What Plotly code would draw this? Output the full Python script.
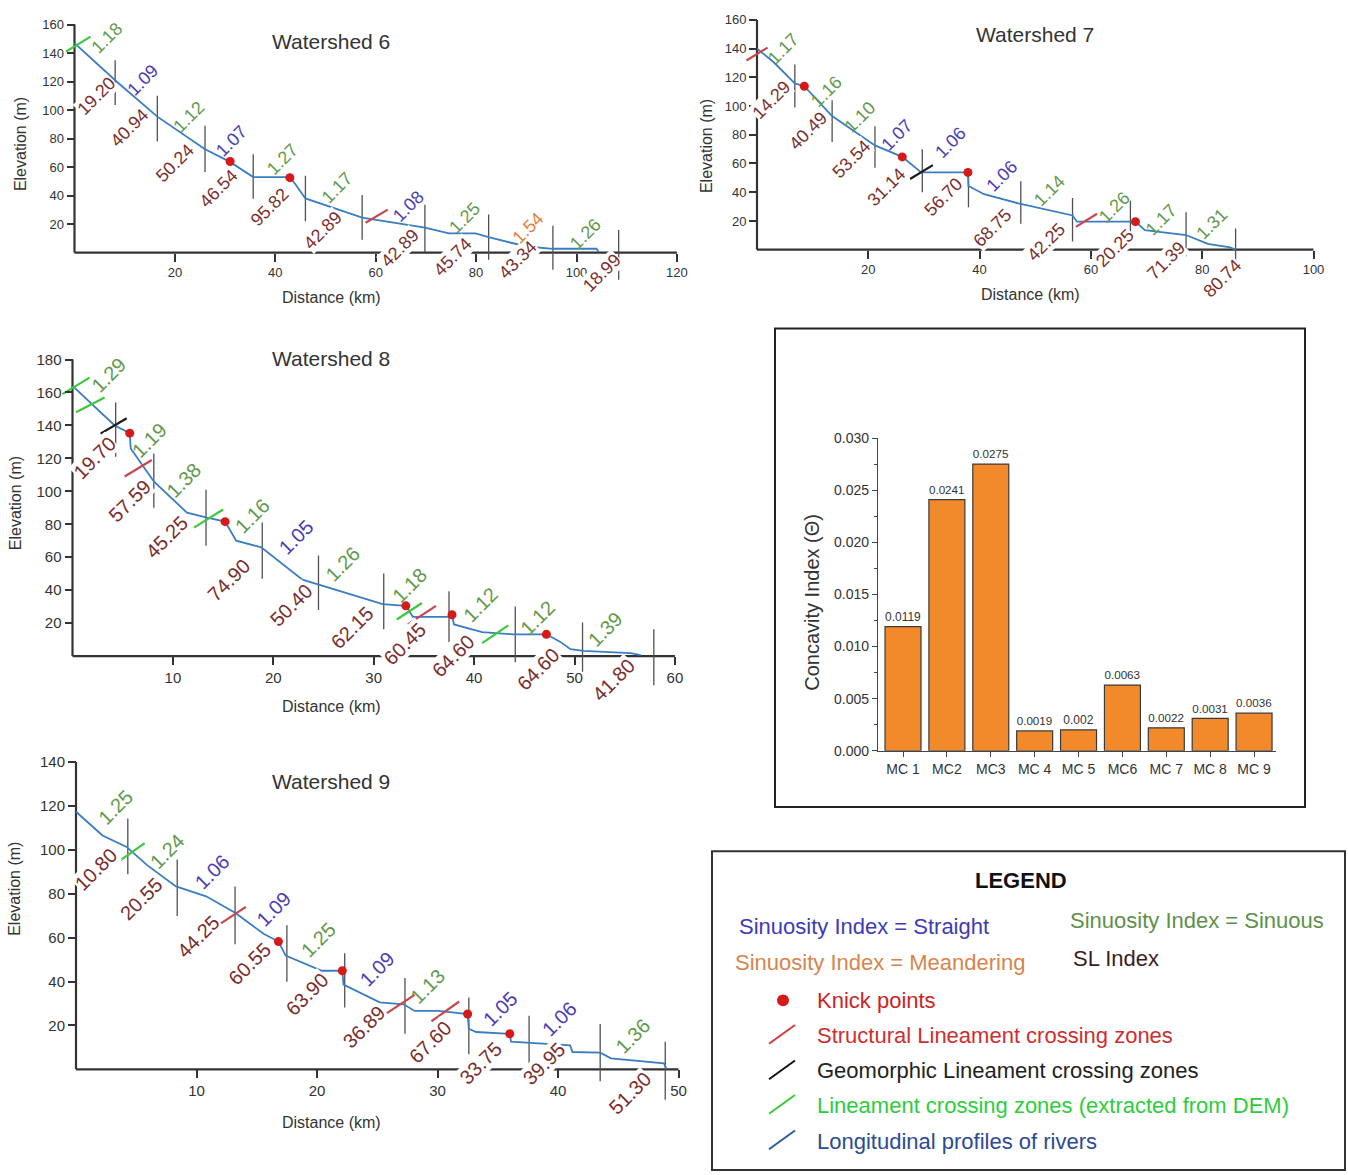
import plotly.graph_objects as go

W, H = 1348, 1175

# ======================= DATA =======================
# ---- Watershed 6 ----
ws6_dist = [0, 8.2, 16.5, 26, 30.8, 35.6, 42.9, 44, 46, 57.3, 69.8, 74.6, 79.9, 82.5, 90, 95.3, 104, 104.4]
ws6_elev = [147, 120.6, 95.4, 72.5, 64, 53, 53, 48, 38, 24.5, 17.6, 13.5, 13.5, 10.8, 4.3, 2.7, 2.7, 0.5]
ws6_knick_x = [31, 42.9]
ws6_knick_y = [63.9, 52.6]
ws6_seg_x = [8.1, 16.5, 26, 35.6, 46, 57.3, 69.8, 82.5, 95.3, 108.4]
ws6_seg_top = [135, 110, 89, 69, 54, 40.5, 33.6, 26.8, 18.8, 15.8]
ws6_seg_bot = [103.5, 78, 56.5, 37.8, 22, 9, 0.5, -5, -12, -19]
ws6_sl = ["19.20", "40.94", "50.24", "46.54", "95.82", "42.89", "42.89", "45.74", "43.34", "18.99"]
ws6_sl_x = [4.4, 10.9, 20, 28.6, 38.9, 49.5, 64.8, 75.3, 88.2, 105]
ws6_sl_y = [109.8, 87.4, 63.2, 44.8, 32, 16, 3.5, -3, -5, -14]
ws6_si = [1.18, 1.09, 1.12, 1.07, 1.27, 1.17, 1.08, 1.25, 1.54, 1.26]
ws6_si_x = [6.4, 13.6, 22.7, 31.3, 41.5, 52.3, 66.6, 77.7, 90.3, 101.8]
ws6_si_y = [150.9, 121.3, 95.5, 78.2, 65.5, 45, 32.5, 24.5, 17.6, 13]
ws6_struct_x = [58, 62.4]
ws6_struct_y = [21, 30.2]
ws6_geo_x = []
ws6_geo_y = []
ws6_dem_x = [-1.7, 3.2]
ws6_dem_y = [141, 151.5]

# ---- Watershed 7 ----
ws7_dist = [0, 3, 6.8, 8.5, 13.5, 21.2, 26.1, 29.5, 37.9, 38, 40.8, 47.4, 56.7, 57.5, 68, 69.7, 77.1, 81, 85, 86]
ws7_elev = [140, 130.5, 115.8, 113.8, 93, 72.6, 64.6, 53.8, 53.8, 44.3, 38.6, 31.8, 23.8, 19.5, 19.5, 13.6, 10.2, 4, 1.6, 0]
ws7_knick_x = [8.5, 26.1, 37.9, 68]
ws7_knick_y = [113.8, 64.6, 53.8, 19.5]
ws7_seg_x = [6.8, 13.5, 21.2, 29.7, 38, 47.4, 56.7, 67.1, 77.1, 86]
ws7_seg_top = [129, 104, 86, 70, 54.5, 47.7, 36, 34, 26, 14.8]
ws7_seg_bot = [99, 75, 57, 40, 29.5, 18, 5.7, 4.5, -4.5, -16]
ws7_sl = ["14.29", "40.49", "53.54", "31.14", "56.70", "68.75", "42.25", "20.25", "71.39", "80.74"]
ws7_sl_x = [2.6, 9.2, 17, 23.3, 33.5, 42.3, 52, 64.3, 73.5, 83.7]
ws7_sl_y = [104.2, 82.4, 63, 43.5, 36.6, 15, 5, 1.5, -8, -20]
ws7_si = [1.17, 1.16, 1.10, 1.07, 1.06, 1.06, 1.14, 1.26, 1.17, 1.31]
ws7_si_x = [4.7, 12.4, 18.5, 25.1, 34.7, 44, 52.5, 64.3, 72.6, 81.7]
ws7_si_y = [139.6, 109.9, 92.7, 80.1, 74.4, 51.5, 40.9, 29.5, 20.4, 18.2]
ws7_struct_x = [-1.9, 1.9, None, 57.3, 61.1]
ws7_struct_y = [131.7, 140.7, None, 15.9, 25]
ws7_geo_x = [27.5, 31.6]
ws7_geo_y = [49.2, 58.9]
ws7_dem_x = []
ws7_dem_y = []

# ---- Watershed 8 ----
ws8_dist = [0, 4.2, 5.7, 5.8, 8.1, 11.4, 13.4, 15.2, 16.3, 18.8, 22.9, 24.5, 30.9, 33.2, 33.9, 37.6, 37.8, 38, 40.8, 43.9, 47.2, 48.6, 49.6, 50.9, 55.6, 56.6]
ws8_elev = [164, 140, 135.3, 126, 106, 87, 84, 81.6, 70, 66, 46.4, 43.4, 31.5, 30.5, 23.8, 23.8, 25.1, 19.2, 14.5, 13.2, 13.2, 8.6, 4.2, 3.2, 1.8, 0.6]
ws8_knick_x = [5.7, 15.2, 33.2, 37.8, 47.2]
ws8_knick_y = [135.3, 81.6, 30.5, 25.1, 13.2]
ws8_seg_x = [4.3, 8.1, 13.3, 18.9, 24.5, 31, 37.5, 44.1, 50.8, 57.9]
ws8_seg_top = [154, 123, 101, 81, 61, 50.1, 39.4, 30.1, 20.3, 16.2]
ws8_seg_bot = [121, 90, 67, 47, 28, 16.2, 8.6, -3.8, -9.6, -17.8]
ws8_sl = ["19.70", "57.59", "45.25", "74.90", "50.40", "62.15", "60.45", "64.60", "64.60", "41.80"]
ws8_sl_x = [2.2, 5.7, 9.4, 15.6, 21.8, 27.8, 33.1, 37.9, 46.4, 53.9]
ws8_sl_y = [120, 94, 72, 46, 31.1, 17.2, 7.2, 0.2, -7.8, -14.8]
ws8_si = [1.29, 1.19, 1.38, 1.16, 1.05, 1.26, 1.18, 1.12, 1.12, 1.39]
ws8_si_x = [3.6, 7.7, 11.1, 17.9, 22.3, 26.9, 33.6, 40.6, 46.3, 53.1]
ws8_si_y = [170.8, 131, 107, 85, 72, 56.1, 43.1, 31.1, 23.2, 16.2]
ws8_struct_x = [5.2, 7.9, None, 33.4, 36.2]
ws8_struct_y = [109, 119, None, 19.2, 30.5]
ws8_geo_x = [2.8, 5.4]
ws8_geo_y = [135, 144.4]
ws8_dem_x = [-1, 1.7, None, 0.35, 3.2, None, 12.1, 15, None, 32.3, 34.8, None, 40.8, 43.4]
ws8_dem_y = [159, 169, None, 148, 157, None, 78, 89, None, 22.2, 32.2, None, 7.8, 18.6]

# ---- Watershed 9 ----
ws9_dist = [0, 2.2, 4.2, 5.9, 8.3, 10.8, 13.2, 15.6, 16.8, 17.4, 20.4, 22.1, 22.2, 25.2, 27.2, 28.1, 30.1, 32.5, 32.6, 33.2, 36, 36.1, 41, 41.2, 43.5, 44.4, 48.8, 49]
ws9_elev = [117.3, 106.5, 101.3, 93, 83.3, 78.8, 71.3, 61.6, 58.2, 51.8, 44.9, 44.9, 38.6, 30.5, 29.6, 26.6, 26.6, 25.2, 18.5, 17, 16.2, 12.6, 10.9, 7.9, 7.6, 5, 2.7, 0.2]
ws9_knick_x = [16.8, 22.1, 32.5, 36]
ws9_knick_y = [58.2, 44.9, 25.2, 16.2]
ws9_seg_x = [4.3, 8.4, 13.2, 17.5, 22.3, 27.3, 32.6, 37.6, 43.5, 48.9]
ws9_seg_top = [114.2, 95.6, 83.3, 65.6, 52.9, 41.6, 32.7, 24.4, 20.7, 12.6]
ws9_seg_bot = [88.8, 69.8, 57, 39.9, 28.2, 16.2, 6.9, -0.3, -5.4, -13.8]
ws9_sl = ["10.80", "20.55", "44.25", "60.55", "63.90", "36.89", "67.60", "33.75", "39.95", "51.30"]
ws9_sl_x = [1.7, 5.4, 10.1, 14.4, 19.2, 23.9, 29.4, 33.6, 38.8, 46]
ws9_sl_y = [91.1, 77.7, 60.5, 47.8, 34.3, 19.3, 12.5, 2.7, 2.5, -10.8]
ws9_si = [1.25, 1.24, 1.06, 1.09, 1.25, 1.09, 1.13, 1.05, 1.06, 1.36]
ws9_si_x = [3.3, 7.6, 11.3, 16.4, 20.1, 25, 29.2, 35.2, 40.1, 46.2]
ws9_si_y = [119.5, 99.3, 89.7, 73.2, 58.9, 45.5, 38, 27.4, 22.9, 15.4]
ws9_struct_x = [11.9, 14.1, None, 25.8, 28.1, None, 29.5, 31.8]
ws9_struct_y = [66, 74, None, 25.6, 33.9, None, 21.9, 30.9]
ws9_geo_x = []
ws9_geo_y = []
ws9_dem_x = [3.7, 5.7]
ws9_dem_y = [95.3, 103]

# ---- Concavity index bar chart ----
mc_cats = ["MC 1", "MC2", "MC3", "MC 4", "MC 5", "MC6", "MC 7", "MC 8", "MC 9"]
mc_conc = [0.0119, 0.0241, 0.0275, 0.0019, 0.002, 0.0063, 0.0022, 0.0031, 0.0036]
mc_labels = ["0.0119", "0.0241", "0.0275", "0.0019", "0.002", "0.0063", "0.0022", "0.0031", "0.0036"]
mc_yticks = [0, 0.005, 0.010, 0.015, 0.020, 0.025, 0.030]

# tick labels
ws6_xt = [20, 40, 60, 80, 100, 120]
ws6_yt = [20, 40, 60, 80, 100, 120, 140, 160]
ws7_xt = [20, 40, 60, 80, 100]
ws7_yt = [20, 40, 60, 80, 100, 120, 140, 160]
ws8_xt = [10, 20, 30, 40, 50, 60]
ws8_yt = [20, 40, 60, 80, 100, 120, 140, 160, 180]
ws9_xt = [10, 20, 30, 40, 50]
ws9_yt = [20, 40, 60, 80, 100, 120, 140]

# ======================= STYLE =======================
FONT = "Arial, Liberation Sans, sans-serif"
C_PROFILE = "#3a7dc0"
C_SEG = "#505050"
C_KNICK = "#d61a1a"
C_STRUCT = "#c8474f"
C_GEO = "#1a1a1a"
C_DEM = "#3cc83c"
C_SL = "#7a2e2e"
C_STRAIGHT = "#4a3db5"
C_SINUOUS = "#62994c"
C_MEANDER = "#e0803a"
C_AX = "#333333"


def si_color(v):
    if v < 1.1:
        return C_STRAIGHT
    if v < 1.5:
        return C_SINUOUS
    return C_MEANDER


panels = [
    dict(name="Watershed 6", dist=ws6_dist, elev=ws6_elev, kx=ws6_knick_x, ky=ws6_knick_y,
         segx=ws6_seg_x, segt=ws6_seg_top, segb=ws6_seg_bot,
         sl=ws6_sl, slx=ws6_sl_x, sly=ws6_sl_y, si=ws6_si, six=ws6_si_x, siy=ws6_si_y,
         stx=ws6_struct_x, sty=ws6_struct_y, gx=ws6_geo_x, gy=ws6_geo_y, dx=ws6_dem_x, dy=ws6_dem_y,
         xt=ws6_xt, yt=ws6_yt),
    dict(name="Watershed 7", dist=ws7_dist, elev=ws7_elev, kx=ws7_knick_x, ky=ws7_knick_y,
         segx=ws7_seg_x, segt=ws7_seg_top, segb=ws7_seg_bot,
         sl=ws7_sl, slx=ws7_sl_x, sly=ws7_sl_y, si=ws7_si, six=ws7_si_x, siy=ws7_si_y,
         stx=ws7_struct_x, sty=ws7_struct_y, gx=ws7_geo_x, gy=ws7_geo_y, dx=ws7_dem_x, dy=ws7_dem_y,
         xt=ws7_xt, yt=ws7_yt),
    dict(name="Watershed 8", dist=ws8_dist, elev=ws8_elev, kx=ws8_knick_x, ky=ws8_knick_y,
         segx=ws8_seg_x, segt=ws8_seg_top, segb=ws8_seg_bot,
         sl=ws8_sl, slx=ws8_sl_x, sly=ws8_sl_y, si=ws8_si, six=ws8_si_x, siy=ws8_si_y,
         stx=ws8_struct_x, sty=ws8_struct_y, gx=ws8_geo_x, gy=ws8_geo_y, dx=ws8_dem_x, dy=ws8_dem_y,
         xt=ws8_xt, yt=ws8_yt),
    dict(name="Watershed 9", dist=ws9_dist, elev=ws9_elev, kx=ws9_knick_x, ky=ws9_knick_y,
         segx=ws9_seg_x, segt=ws9_seg_top, segb=ws9_seg_bot,
         sl=ws9_sl, slx=ws9_sl_x, sly=ws9_sl_y, si=ws9_si, six=ws9_si_x, siy=ws9_si_y,
         stx=ws9_struct_x, sty=ws9_struct_y, gx=ws9_geo_x, gy=ws9_geo_y, dx=ws9_dem_x, dy=ws9_dem_y,
         xt=ws9_xt, yt=ws9_yt),
]

# layout geometry (pixel placement of each panel)
geom = [
    dict(px0=74.5, sx=5.02, py0=248, sy=1.445, xr=[-5, 125], yr=[-25, 165], xmax=120, ymax=160,
         title=(331, 34), xtitle=(331, 293), ytitle=(20, 138), lbl=18, tick=13),
    dict(px0=757, sx=5.565, py0=245, sy=1.456, xr=[-5, 103], yr=[-25, 165], xmax=100, ymax=160,
         title=(1035, 27), xtitle=(1030, 290), ytitle=(706, 140), lbl=18, tick=13),
    dict(px0=72.5, sx=10.04, py0=657, sy=1.67, xr=[-5, 62], yr=[-22, 185], xmax=60, ymax=180,
         title=(331, 355), xtitle=(331, 708), ytitle=(15, 502), lbl=20, tick=15),
    dict(px0=76, sx=12.05, py0=1076, sy=2.226, xr=[-4, 52], yr=[-17, 145], xmax=50, ymax=140,
         title=(331, 784), xtitle=(331, 1130), ytitle=(15, 893), lbl=20, tick=15),
]

fig = go.Figure()
annotations = []
shapes = []
layout_axes = {}


def px2x(p):
    return p / W


def px2y(p):
    return 1 - p / H


def paper_text(text, x, y, size, color, angle=0, anchor="center", bold=False):
    annotations.append(dict(text=f"<b>{text}</b>" if bold else text, x=px2x(x), y=px2y(y),
                            xref="paper", yref="paper", showarrow=False, xanchor=anchor,
                            yanchor="middle", textangle=angle,
                            font=dict(size=size, color=color, family=FONT)))


for i, (pn, g) in enumerate(zip(panels, geom), start=1):
    xa, ya = f"x{i}", f"y{i}"
    xdom = [px2x(g["px0"] + g["sx"] * g["xr"][0]), px2x(g["px0"] + g["sx"] * g["xr"][1])]
    ydom = [px2y(g["py0"] - g["sy"] * g["yr"][0]), px2y(g["py0"] - g["sy"] * g["yr"][1])]
    layout_axes[f"xaxis{i}"] = dict(
        domain=xdom, range=g["xr"], anchor="free", position=px2y(g["py0"]),
        showline=False, showgrid=False, zeroline=False, tickvals=pn["xt"],
        ticks="outside", ticklen=8, tickcolor=C_AX, tickwidth=1.5,
        tickfont=dict(size=g["tick"], color=C_AX, family=FONT))
    layout_axes[f"yaxis{i}"] = dict(
        domain=ydom, range=g["yr"], anchor="free", position=px2x(g["px0"]),
        showline=False, showgrid=False, zeroline=False, tickvals=pn["yt"],
        ticks="outside", ticklen=8, tickcolor=C_AX, tickwidth=1.5,
        tickfont=dict(size=g["tick"], color=C_AX, family=FONT))

    # axis lines
    shapes.append(dict(type="line", xref=xa, yref=ya, x0=0, x1=g["xmax"], y0=0, y1=0,
                       line=dict(color=C_AX, width=2.2), layer="below"))
    shapes.append(dict(type="line", xref=xa, yref=ya, x0=0, x1=0, y0=0, y1=g["ymax"],
                       line=dict(color=C_AX, width=2.2), layer="below"))

    # segment dividers
    sx, sy = [], []
    for x, t, b in zip(pn["segx"], pn["segt"], pn["segb"]):
        sx += [x, x, None]
        sy += [t, b, None]
    fig.add_trace(go.Scatter(x=sx, y=sy, mode="lines", line=dict(color=C_SEG, width=1.3),
                             xaxis=xa, yaxis=ya, showlegend=False, hoverinfo="skip"))
    # profile
    fig.add_trace(go.Scatter(x=pn["dist"], y=pn["elev"], mode="lines",
                             line=dict(color=C_PROFILE, width=1.8),
                             xaxis=xa, yaxis=ya, showlegend=False))
    # lineament crossings
    for cx, cy, col in [(pn["stx"], pn["sty"], C_STRUCT), (pn["gx"], pn["gy"], C_GEO),
                        (pn["dx"], pn["dy"], C_DEM)]:
        if cx:
            fig.add_trace(go.Scatter(x=cx, y=cy, mode="lines", line=dict(color=col, width=2.2),
                                     xaxis=xa, yaxis=ya, showlegend=False, hoverinfo="skip"))
    # knick points
    fig.add_trace(go.Scatter(x=pn["kx"], y=pn["ky"], mode="markers",
                             marker=dict(color=C_KNICK, size=9),
                             xaxis=xa, yaxis=ya, showlegend=False, cliponaxis=False))

    # SL index labels
    for t, x, y in zip(pn["sl"], pn["slx"], pn["sly"]):
        annotations.append(dict(text=t, x=x, y=y, xref=xa, yref=ya, showarrow=False,
                                xanchor="center", yanchor="middle",
                                textangle=-45, bgcolor="white", borderpad=0,
                                font=dict(size=g["lbl"], color=C_SL, family=FONT)))
    # sinuosity labels
    for v, x, y in zip(pn["si"], pn["six"], pn["siy"]):
        annotations.append(dict(text=f"{v:.2f}", x=x, y=y, xref=xa, yref=ya, showarrow=False,
                                xanchor="center", yanchor="middle", textangle=-45,
                                font=dict(size=g["lbl"], color=si_color(v), family=FONT)))

    paper_text(pn["name"], g["title"][0], g["title"][1], 21, C_AX)
    paper_text("Distance (km)", g["xtitle"][0], g["xtitle"][1], 16, C_AX)
    paper_text("Elevation (m)", g["ytitle"][0], g["ytitle"][1], 16, C_AX, angle=-90)

# ---------------- bar chart ----------------
fig.add_trace(go.Bar(x=mc_cats, y=mc_conc, text=mc_labels, textposition="outside",
                     textfont=dict(size=12, color=C_AX, family=FONT), cliponaxis=False,
                     marker=dict(color="#f28a2c", line=dict(color="#3a3a3a", width=1.2)),
                     width=0.82, xaxis="x5", yaxis="y5", showlegend=False))
layout_axes["xaxis5"] = dict(domain=[px2x(878), px2x(1276)], range=[-0.57, 8.5], anchor="y5",
                             showline=True, linecolor="#444", linewidth=1.3, ticks="outside",
                             ticklen=5, tickcolor="#444", showgrid=False,
                             tickfont=dict(size=14, color=C_AX, family=FONT))
layout_axes["yaxis5"] = dict(domain=[px2y(753), px2y(436)], range=[0, 0.030], anchor="x5",
                             showline=True, linecolor="#444", linewidth=1.3, ticks="outside",
                             ticklen=5, tickcolor="#444", showgrid=False, zeroline=False,
                             tickvals=mc_yticks, tickformat=".3f",
                             minor=dict(ticks="outside", ticklen=3, tickcolor="#444", dtick=0.0025,
                                        showgrid=False),
                             tickfont=dict(size=14, color=C_AX, family=FONT))
paper_text("Concavity Index (\u0398)", 812, 603, 20, C_AX, angle=-90)
shapes.append(dict(type="rect", xref="paper", yref="paper", x0=px2x(775), x1=px2x(1305),
                   y0=px2y(810), y1=px2y(325), line=dict(color="#222", width=2)))

# ---------------- legend box ----------------
shapes.append(dict(type="rect", xref="paper", yref="paper", x0=px2x(712), x1=px2x(1345),
                   y0=px2y(1178), y1=px2y(855), line=dict(color="#333", width=2)))
leg_text = [
    ("LEGEND", 1021, 885, "#111", "center", True),
    ("Sinuosity Index = Straight", 737, 931, "#3e3ab8", "left", False),
    ("Sinuosity Index = Sinuous", 1068, 925, "#5e8f4c", "left", False),
    ("Sinuosity Index = Meandering", 733, 968, "#d8844c", "left", False),
    ("SL Index", 1071, 964, "#3a1e1e", "left", False),
    ("Knick points", 815, 1006, "#cc2424", "left", False),
    ("Structural Lineament crossing zones", 815, 1042, "#cc2f2f", "left", False),
    ("Geomorphic Lineament crossing zones", 815, 1077, "#222", "left", False),
    ("Lineament crossing zones (extracted from DEM)", 815, 1113, "#2ecc40", "left", False),
    ("Longitudinal profiles of rivers", 815, 1149, "#2b4b92", "left", False),
]
for t, x, y, c, anc, bold in leg_text:
    paper_text(t, x, y, 22, c, anchor=anc, bold=bold)
for y, c in [(1040, "#d03a3a"), (1076, "#111"), (1111, "#33cc33"), (1147, "#2b5b9a")]:
    shapes.append(dict(type="line", xref="paper", yref="paper", x0=px2x(769), x1=px2x(795),
                       y0=px2y(y + 10), y1=px2y(y - 9), line=dict(color=c, width=2)))
shapes.append(dict(type="circle", xref="paper", yref="paper", x0=px2x(777), x1=px2x(789),
                   y0=px2y(1012), y1=px2y(1000), fillcolor="#d61a1a", line=dict(width=0)))

fig.update_layout(width=W, height=H, margin=dict(l=0, r=0, t=0, b=0),
                  paper_bgcolor="white", plot_bgcolor="rgba(0,0,0,0)",
                  annotations=annotations, shapes=shapes, font=dict(family=FONT),
                  **layout_axes)

fig.write_html("out.html", config={"displayModeBar": False},
               post_script="document.body.style.margin='0';document.body.style.overflow='hidden';")
